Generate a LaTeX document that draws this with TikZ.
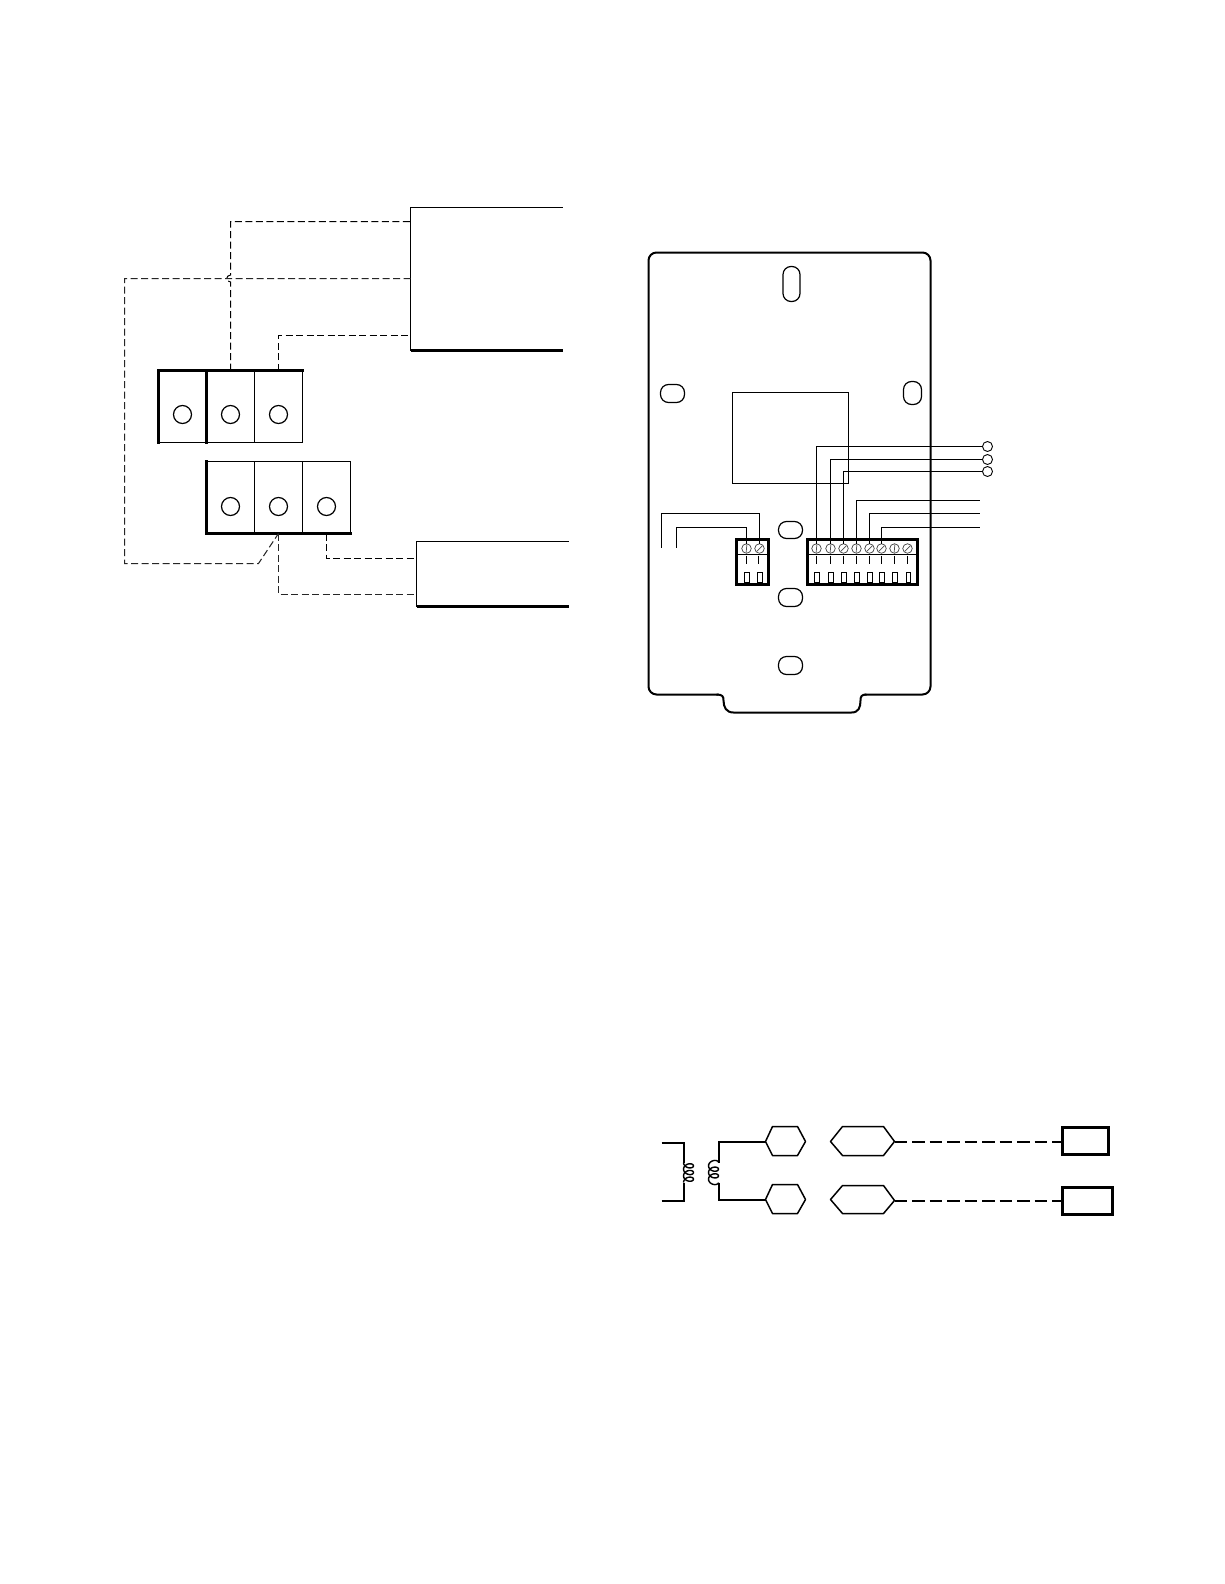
\documentclass[tikz,border=0pt]{standalone}
\newcommand{\bx}[6][]{\node[cell,#1,minimum width={((#4)-(#2))*1pt},minimum height={((#5)-(#3))*1pt}] (#6) at ({((#2)+(#4))/2},{((#3)+(#5))/2}) {};}
\tikzset{
  x=1pt,y=-1pt,
  cell/.style={draw=black,line width=1pt,rectangle,inner sep=0pt,outer sep=0pt},
  thickedge/.style={line width=2.1pt,line cap=rect},
  thin wire/.style={line width=1pt},
  wire/.style={line width=1pt,line join=miter},
  dashwire/.style={line width=1pt,dash pattern=on 7pt off 3.5pt},
  longdash/.style={line width=2pt,dash pattern=on 12.5pt off 5pt},
  screwhole/.style={draw=black,circle,line width=1.2pt,minimum size=18pt,inner sep=0pt,outer sep=0pt},
  slot/.style={draw=black,rectangle,rounded corners=8pt,line width=1.2pt,inner sep=0pt,outer sep=0pt},
  ring/.style={draw=black,circle,line width=.9pt,minimum size=10pt,inner sep=0pt,outer sep=0pt},
  screw/.style={draw=black!75,circle,line width=.7pt,minimum size=9.5pt,inner sep=0pt,outer sep=0pt},
  hexa/.style={line width=1.5pt,line join=round},
  outline/.style={line width=2pt},
}
\begin{document}
\begin{tikzpicture}
\useasboundingbox (0,0) rectangle (1224,1584);
\fill[white] (0,0) rectangle (1224,1584);
\begin{scope}[shift={(0.5,0.5)}]

% --- left diagram: open-ended boxes
\coordinate (tbTR) at (562,207); \coordinate (tbTL) at (410,207);
\coordinate (tbBL) at (410,350); \coordinate (tbBR) at (562,350);
\draw[thin wire] (tbTR) -- (tbTL) -- (tbBL);
\draw[line width=2.1pt] (tbBL) -- (tbBR);
\coordinate (bbTR) at (568,541); \coordinate (bbTL) at (416,541);
\coordinate (bbBL) at (416,606); \coordinate (bbBR) at (568,606);
\draw[thin wire] (bbTR) -- (bbTL) -- (bbBL);
\draw[line width=2.1pt] (bbBL) -- (bbBR);
\coordinate (p1) at (410,221); \coordinate (p2) at (410,278); \coordinate (p3) at (410,335);
\coordinate (q1) at (416,558); \coordinate (q2) at (416,594);

% terminal blocks
\bx{158}{370}{206}{442}{ua}
\bx{206}{370}{254}{442}{ub}
\bx{254}{370}{302}{442}{uc}
\bx{206}{461}{254}{533}{la}
\bx{254}{461}{302}{533}{lb}
\bx{302}{461}{350}{533}{lc}
\draw[thickedge] (ua.south west) -- (ua.north west) -- (uc.north east);
\draw[thickedge] (ub.north west) -- (ub.south west);
\draw[thickedge] (la.north west) -- (la.south west) -- (lc.south east);
\node[screwhole] (uh1) at (182,414) {};
\node[screwhole] (uh2) at (230,414) {};
\node[screwhole] (uh3) at (278,414) {};
\node[screwhole] (lh1) at (230,506) {};
\node[screwhole] (lh2) at (278,506) {};
\node[screwhole] (lh3) at (326,506) {};

% dashed connectors
\draw[dashwire] (ub.north) -- (230,281.5) .. controls (225,281) and (225,275) .. (230,274.5) -- (230,221) -- (p1);
\draw[dashwire,draw=black!85] (p2) -- (124,278) -- (124,563) -- (258,563) -- (lb.south);
\draw[dashwire] (uc.north) -- (278,335) -- (p3);
\draw[dashwire] (lc.south) -- (326,558) -- (q1);
\draw[dashwire,draw=black!85] (lb.south) -- (278,594) -- (q2);

% --- wall plate
\draw[outline,rounded corners=8pt] (718,694) -- (648,694) -- (648,252) -- (930,252) -- (930,694) -- (864,694);
\draw[outline] (716,694) .. controls (722,694) and (723,696) .. (723,700)
   .. controls (723,707) and (726,712) .. (733,712) -- (851,712)
   .. controls (858,712) and (860,707) .. (860,700)
   .. controls (860,696) and (861,694) .. (866,694);
\bx[slot]{782.5}{266}{799.5}{301}{s1}
\bx[slot]{660}{384}{684}{402}{s2}
\bx[slot]{903}{381}{921}{404}{s3}
\bx[slot]{778}{521}{802}{538}{s4}
\bx[slot]{778}{588}{802}{606}{s5}
\bx[slot]{778}{656}{802}{674}{s6}
\bx{732}{392}{848}{483}{chip}

% small connector block
\bx[line width=2.1pt]{736}{539}{768}{584}{tbs}
\draw[line width=1pt] (tbs.west |- 0,554) -- (tbs.east |- 0,554);
\bx{743.5}{572}{749}{582}{rsa}
\bx{756.5}{572}{762}{582}{rsb}
\foreach \n/\xx/\ang in {a/746/-85,b/759/-45}{
  \node[screw] (sc\n) at (\xx,548) {};
  \draw[black!70,line width=.7pt] (\xx,548) ++(\ang:4) -- ++(\ang+180:8);
}
\draw[thin wire] (746,555) -- (746,563);
\draw[thin wire] (758,555) -- (758,563);

% large connector block
\bx[line width=2.1pt]{807}{539}{917}{584}{tbl}
\draw[line width=1pt] (tbl.west |- 0,554) -- (tbl.east |- 0,554);
\foreach \n/\xx/\ang/\hw in {1/816/-85/2.8,2/830/-85/2.8,3/843/-45/2.2,4/856/-85/2.8,5/869/-45/2.8,6/881/-45/2.8,7/894/-85/2.8,8/907/-45/2}{
  \node[screw] (t\n) at (\xx,548) {};
  \draw[black!70,line width=.7pt] (\xx,548) ++(\ang:4) -- ++(\ang+180:8);
  \draw[thin wire] (\xx,555) -- (\xx,563);
  \bx{\xx+.5-\hw}{572}{\xx+.5+\hw}{582}{r\n}
}

% wires to the rings and free ends
\node[ring] (ra) at (987,446) {};
\node[ring] (rb) at (987,459) {};
\node[ring] (rc) at (987,471) {};
\draw[wire] (ra.west) -| (t1.north);
\draw[wire] (rb.west) -| (t2.north);
\draw[wire] (rc.west) -| (t3.north);
\coordinate (ea) at (979,500);
\coordinate (eb) at (979,513);
\coordinate (ec) at (979,527);
\draw[wire] (ea) -| (t4.north);
\draw[wire] (eb) -| (t5.north);
\draw[wire] (ec) -| (t6.north);
\coordinate (fa) at (661,547);
\coordinate (fb) at (676,547);
\draw[wire] (fa) -- (661,513) -| (scb.north);
\draw[wire] (fb) -- (676,527) -| (sca.north);

% --- transformer schematic
\coordinate (pa) at (661,1142);
\coordinate (pb) at (661,1200);
\draw[line width=2pt] (pa) -- (683,1142) -- (683,1162);
\draw[line width=2pt] (pb) -- (683,1200) -- (683,1182);
\draw[line width=1.4pt] plot[smooth,samples=60,domain=180:1260,variable=\t] ({688+5*cos(\t)},{1162+(\t-180)/54-3.6*sin(\t)});
\draw[line width=1.4pt] plot[smooth,samples=60,domain=0:1080,variable=\t] ({713+5*cos(\t)},{1162+\t/54-3.6*sin(\t)});

\coordinate (hua) at (765,1141);
\coordinate (hub) at (765,1199);
\draw[hexa] (hua) -- (772,1126) -- (797,1126) -- (805,1141) -- (797,1155) -- (772,1155) -- cycle;
\draw[hexa] (hub) -- (772,1184) -- (797,1184) -- (805,1199) -- (797,1213) -- (772,1213) -- cycle;
\draw[line width=2pt] (hua) -- (718,1141) -- (718,1162);
\draw[line width=2pt] (hub) -- (718,1199) -- (718,1182);

\coordinate (hva) at (894,1141);
\coordinate (hvb) at (894,1200);
\draw[hexa] (830,1141) -- (842,1126) -- (883,1126) -- (hva) -- (883,1155) -- (842,1155) -- cycle;
\draw[hexa] (830,1199) -- (842,1185) -- (883,1185) -- (hvb) -- (883,1213) -- (842,1213) -- cycle;
\bx[line width=2.1pt]{1062}{1127}{1108}{1154}{ka}
\bx[line width=2.3pt]{1062}{1187}{1112}{1214}{kb}
\draw[longdash] (hva) -- (hva -| ka.west);
\draw[longdash] (hvb) -- (hvb -| kb.west);
\end{scope}
\end{tikzpicture}
\end{document}
